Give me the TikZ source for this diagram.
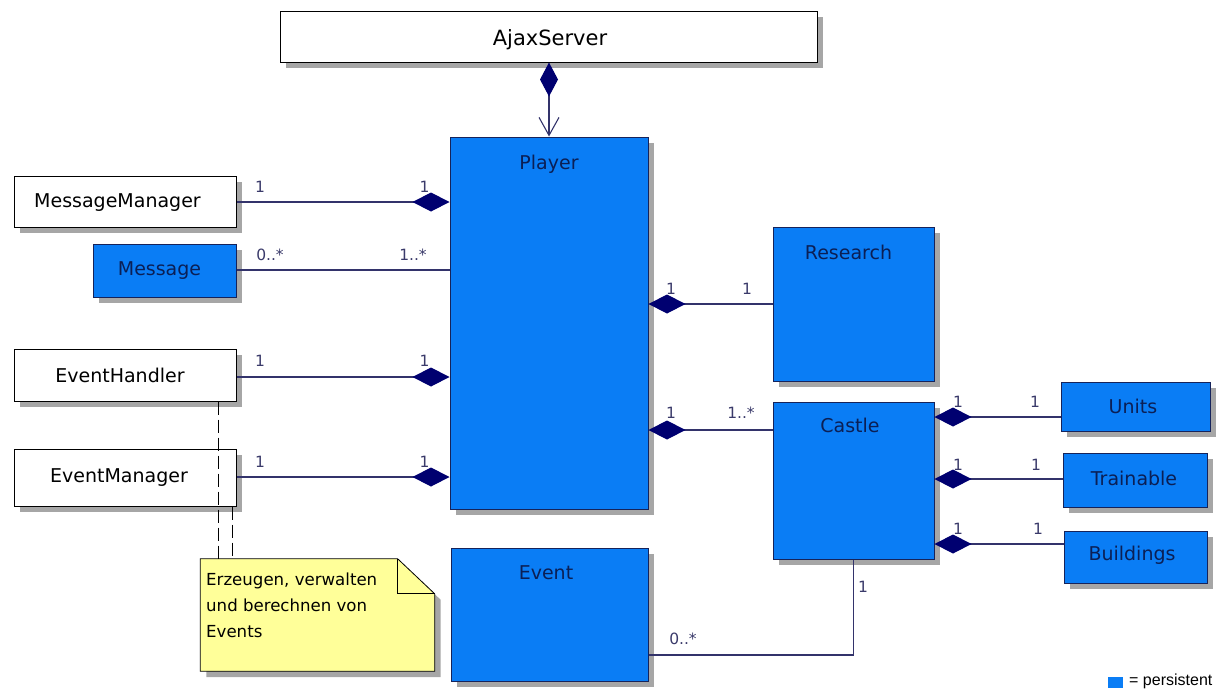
\documentclass[tikz,border=0pt]{standalone}
\usepackage{fontspec}
\setmainfont{DejaVu Sans}
\newfontfamily\legendfont{Liberation Sans}
\usetikzlibrary{arrows.meta,shadows,calc}

\definecolor{pblue}{HTML}{0A7DF5}
\definecolor{pborder}{HTML}{16235A}
\definecolor{ptext}{HTML}{0B1F55}
\definecolor{wire}{HTML}{33336B}
\definecolor{dia}{HTML}{000070}
\definecolor{shadowgray}{HTML}{A6A6A6}
\definecolor{notefill}{HTML}{FFFF99}
\definecolor{multc}{HTML}{3A3A6A}

\tikzset{
  box/.style={rectangle, inner sep=0pt, line width=1pt,
    general shadow={fill=shadowgray, shadow xshift=6pt, shadow yshift=-6pt}},
  plainbox/.style={box, draw=black, fill=white},
  persbox/.style={box, draw=pborder, fill=pblue},
  title/.style={font=\fontsize{19}{23}\selectfont, text=black, inner sep=0pt, anchor=base},
  ptitle/.style={title, text=ptext},
  multlabel/.style={font=\fontsize{15.5}{18}\selectfont, text=multc, inner sep=0pt, anchor=base},
  assoc/.style={draw=wire, line width=1.1pt},
  comp/.style={assoc, {Diamond[length=37pt,width=19pt,color=dia]}-},
  notelink/.style={draw=black, line width=0.8pt, dash pattern=on 13pt off 5pt},
  notetext/.style={font=\fontsize{16.6}{20}\selectfont, inner sep=0pt, anchor=base west},
}

\begin{document}
\begin{tikzpicture}[x=1pt,y=-1pt]
\useasboundingbox (0,0) rectangle (1223,689);

% classes
\node[plainbox, minimum width=537pt, minimum height=51pt] (ajax) at (548.5,36.5) {};
\node[persbox, minimum width=198pt, minimum height=372pt] (player) at (549,323) {};
\node[plainbox, minimum width=222pt, minimum height=51pt] (msgmgr) at (125,201.5) {};
\node[persbox, minimum width=143pt, minimum height=53pt] (message) at (164.5,270.5) {};
\node[plainbox, minimum width=222pt, minimum height=52pt] (evhandler) at (125,375) {};
\node[plainbox, minimum width=222pt, minimum height=57pt] (evmanager) at (125,477.5) {};
\node[persbox, minimum width=197pt, minimum height=133pt] (event) at (549.5,614.5) {};
\node[persbox, minimum width=161pt, minimum height=154pt] (research) at (853.5,304) {};
\node[persbox, minimum width=161pt, minimum height=157pt] (castle) at (853.5,480.5) {};
\node[persbox, minimum width=149pt, minimum height=49pt] (units) at (1135.5,406.5) {};
\node[persbox, minimum width=144pt, minimum height=54pt] (trainable) at (1135,480) {};
\node[persbox, minimum width=143pt, minimum height=52pt] (buildings) at (1135.5,557) {};

% class names
\node[title, font=\fontsize{21}{25}\selectfont] (tAjax) at (550,45) {AjaxServer};
\node[title] (tMsgMgr) at (117.5,207) {MessageManager};
\node[ptitle] (tMsg) at (159.5,275) {Message};
\node[title] (tEvH) at (120,382) {EventHandler};
\node[title] (tEvM) at (119,482) {EventManager};
\node[ptitle] (tPlayer) at (549,169) {Player};
\node[ptitle] (tRes) at (848.5,259) {Research};
\node[ptitle] (tCastle) at (850,432) {Castle};
\node[ptitle] (tEvent) at (546,579) {Event};
\node[ptitle] (tUnits) at (1133,413) {Units};
\node[ptitle] (tTrain) at (1134,485) {Trainable};
\node[ptitle] (tBuild) at (1132,560) {Buildings};

% note with folded corner
\node[minimum width=234pt, minimum height=112pt, inner sep=0pt] (note) at (317.5,615) {};
\fill[shadowgray] ($(note.north west)+(6,6)$) -- ($(note.north east)+(-31,6)$)
  -- ($(note.north east)+(6,41)$) -- ($(note.south east)+(6,6)$)
  -- ($(note.south west)+(6,6)$) -- cycle;
\path[draw=black, fill=notefill, line width=0.8pt] (note.north west) -- ($(note.north east)+(-37,0)$)
  -- ($(note.north east)+(0,35)$) -- (note.south east) -- (note.south west) -- cycle;
\draw[black, line width=0.8pt] ($(note.north east)+(-37,0)$) -- ($(note.north east)+(-37,35)$)
  -- ($(note.north east)+(0,35)$);
\node[notetext] (nl1) at (206,585) {Erzeugen, verwalten};
\node[notetext] (nl2) at (206,611) {und berechnen von};
\node[notetext] (nl3) at (206,637) {Events};

% rows and columns of the connectors
\coordinate (yMM) at (0,202);
\coordinate (yMsg) at (0,270);
\coordinate (yEH) at (0,377);
\coordinate (yEM) at (0,477);
\coordinate (yRes) at (0,304);
\coordinate (yCas) at (0,430);
\coordinate (yUn) at (0,417);
\coordinate (yTr) at (0,479);
\coordinate (yBu) at (0,544);
\coordinate (yEv) at (0,655);
\coordinate (xD1) at (218,0);
\coordinate (xD2) at (232,0);

% associations
\draw[assoc, {Diamond[length=34pt,width=18pt,color=dia]}-{Straight Barb[length=18pt,width=20pt]}]
  (ajax.south -| player.north) -- (player.north);
\draw[comp] (player.west |- yMM) -- (msgmgr.east |- yMM);
\draw[assoc] (player.west |- yMsg) -- (message.east |- yMsg);
\draw[comp] (player.west |- yEH) -- (evhandler.east |- yEH);
\draw[comp] (player.west |- yEM) -- (evmanager.east |- yEM);
\draw[comp] (player.east |- yRes) -- (research.west |- yRes);
\draw[comp] (player.east |- yCas) -- (castle.west |- yCas);
\draw[comp] (castle.east |- yUn) -- (units.west |- yUn);
\draw[comp] (castle.east |- yTr) -- (trainable.west |- yTr);
\draw[comp] (castle.east |- yBu) -- (buildings.west |- yBu);
\draw[assoc] (event.east |- yEv) -| (castle.south);

% note links
\draw[notelink] (evhandler.south -| xD1) -- (note.north -| xD1);
\draw[notelink] (evmanager.south -| xD2) -- (note.north -| xD2);

% multiplicities
\node[multlabel] (m1) at (260,192) {1};
\node[multlabel] (m2) at (424.5,192) {1};
\node[multlabel] (m3) at (270,260) {0..*};
\node[multlabel] (m4) at (413,260) {1..*};
\node[multlabel] (m5) at (260,366) {1};
\node[multlabel] (m6) at (424.5,366) {1};
\node[multlabel] (m7) at (260,467) {1};
\node[multlabel] (m8) at (424.5,467) {1};
\node[multlabel] (m9) at (671,294) {1};
\node[multlabel] (m10) at (747,294) {1};
\node[multlabel] (m11) at (671,418) {1};
\node[multlabel] (m12) at (741,418) {1..*};
\node[multlabel] (m13) at (958,407) {1};
\node[multlabel] (m14) at (1035,407) {1};
\node[multlabel] (m15) at (958,470) {1};
\node[multlabel] (m16) at (1036,470) {1};
\node[multlabel] (m17) at (958,534) {1};
\node[multlabel] (m18) at (1038,534) {1};
\node[multlabel] (m19) at (863,592) {1};
\node[multlabel] (m20) at (683,644) {0..*};

% legend
\node[fill=pblue, minimum width=15pt, minimum height=11pt, inner sep=0pt] (legsq) at (1115.5,682.5) {};
\node[font=\legendfont\fontsize{16}{19}\selectfont, anchor=west, inner sep=0pt] (legtxt) at (1129,681) {= persistent};
\end{tikzpicture}
\end{document}
